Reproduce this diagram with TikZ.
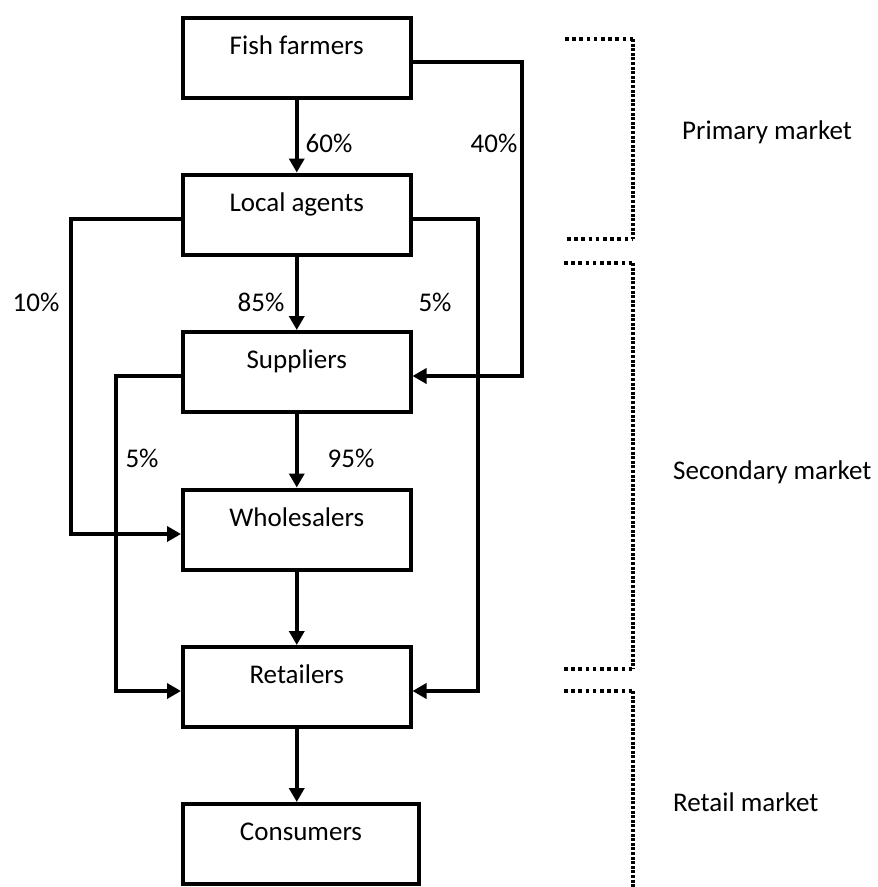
\documentclass[tikz,border=0pt]{standalone}
\usepackage{fontspec}
\setmainfont{Carlito}
\usetikzlibrary{arrows.meta}
\tikzset{
  x=1pt, y=-1pt,
  box/.style={draw, line width=4pt, rectangle, inner xsep=0pt, inner ysep=0pt,
    minimum width=227.5pt, text height=36.5pt, text depth=43.5pt,
    font=\fontsize{27}{32}\selectfont},
  lbl/.style={inner sep=0pt, font=\fontsize{27}{32}\selectfont},
  arr/.style={line width=4pt, -{Triangle[length=14pt,width=15pt]}},
  hdot/.style={line width=3.8pt, dash pattern=on 3.5pt off 3.7pt},
  vdot/.style={line width=3.8pt, dash pattern=on 3pt off 1.6pt}
}
\begin{document}
\begin{tikzpicture}
\useasboundingbox (0,0) rectangle (878,887);

\node[box] (fish) at (296.75,57.5) {Fish farmers};
\node[box] (local) at (296.75,214.5) {Local agents};
\node[box] (sup) at (296.75,372) {Suppliers};
\node[box] (whole) at (296.75,529.5) {Wholesalers};
\node[box] (ret) at (296.75,687) {Retailers};
\node[box, minimum width=236pt] (cons) at (301,844) {Consumers};

% straight flows
\draw[arr] (fish.south -| local.north) -- (local.north);
\draw[arr] (local.south) -- (sup.north);
\draw[arr] (sup.south) -- (whole.north);
\draw[arr] (whole.south) -- (ret.north);
\draw[arr] (ret.south) -- (ret.south |- cons.north);

% bypass flows
\draw[arr] ([yshift=-4.5pt]fish.east) -- (522,62) |- ([yshift=-4pt]sup.east);
\draw[arr] ([yshift=-4.5pt]local.west) -- (71,219) |- ([yshift=-4.5pt]whole.west);
\draw[arr] ([yshift=-4.5pt]local.east) -- (477.5,219) |- ([yshift=-4pt]ret.east);
\draw[arr] ([yshift=-4pt]sup.west) -- (116,376) |- ([yshift=-4pt]ret.west);

% percentages
\node[lbl] (p60) at (329,143) {60\%};
\node[lbl] (p40) at (494,143) {40\%};
\node[lbl] (p10) at (36,302) {10\%};
\node[lbl] (p85) at (261,302) {85\%};
\node[lbl] (p5a) at (435,302) {5\%};
\node[lbl] (p5b) at (142,458) {5\%};
\node[lbl] (p95) at (351,458) {95\%};

% market brackets
\draw[hdot] (565,39) -- (633,39);
\draw[vdot] (633,39) -- (633,239);
\draw[hdot] (567,239) -- (633,239);
\draw[hdot] (564,263) -- (633,263);
\draw[vdot] (633,263) -- (633,669);
\draw[hdot] (564,669) -- (633,669);
\draw[hdot] (564,691) -- (633,691);
\draw[vdot] (633,691) -- (633,887);

\node[lbl, anchor=west] (mprim) at (682,132) {Primary market};
\node[lbl, anchor=west] (msec) at (673,472) {Secondary market};
\node[lbl, anchor=west] (mret) at (673,802) {Retail market};
\end{tikzpicture}
\end{document}
